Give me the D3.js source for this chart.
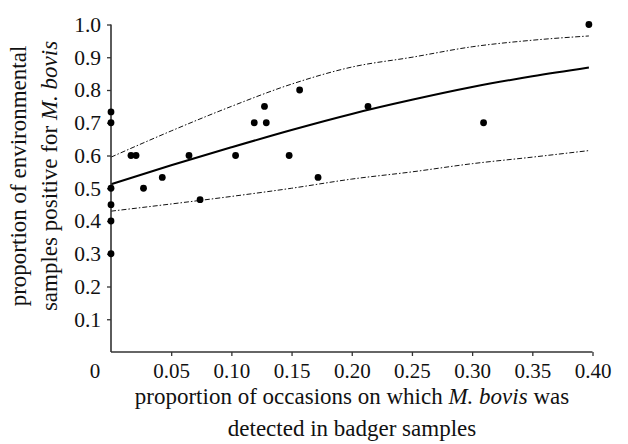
<!DOCTYPE html>
<html>
<head>
<meta charset="utf-8">
<script src="https://cdn.jsdelivr.net/npm/d3@7"></script>
<style>
  body { margin: 0; background: #fff; }
  #chart text { font-family: "Liberation Serif", "Times New Roman", serif !important; }
</style>
</head>
<body>
<svg id="chart" width="628" height="444"></svg>
<script>
// observed points (x = proportion badger samples, y = proportion environmental samples)
var pointX = [0, 0, 0, 0, 0, 0, 0.0166, 0.0208, 0.027, 0.0426, 0.0648, 0.074,
  0.1035, 0.119, 0.1275, 0.129, 0.148, 0.1567, 0.172, 0.2135, 0.3095, 0.397];
var pointY = [0.733, 0.70, 0.50, 0.45, 0.40, 0.30, 0.60, 0.60, 0.50, 0.533, 0.60, 0.465,
  0.60, 0.70, 0.75, 0.70, 0.60, 0.80, 0.533, 0.75, 0.70, 1.0];

// fitted curve and confidence band
var curveX = [0, 0.05, 0.10, 0.15, 0.20, 0.25, 0.30, 0.35, 0.397];
var fitY = [0.512, 0.570, 0.625, 0.678, 0.727, 0.770, 0.809, 0.842, 0.869];
var upperY = [0.595, 0.675, 0.750, 0.818, 0.870, 0.900, 0.932, 0.952, 0.965];
var lowerY = [0.430, 0.452, 0.475, 0.500, 0.528, 0.550, 0.575, 0.595, 0.615];

var xTicks = [0.05, 0.10, 0.15, 0.20, 0.25, 0.30, 0.35, 0.40];
var yTicks = [0.1, 0.2, 0.3, 0.4, 0.5, 0.6, 0.7, 0.8, 0.9, 1.0];

var W = 628, H = 444;
var margin = {top: 24.5, right: 35.5, bottom: 92, left: 111};
var fontFam = "Liberation Serif";

function styleText(sel, size) {
  sel.attr("font-family", fontFam)
    .attr("font-size", size)
    .style("font-size", size + "px")
    .attr("fill", "#111");
}

var svg = d3.select("#chart");

var xScale = d3.scaleLinear()
  .domain([0, 0.40])
  .range([margin.left, W - margin.right]);

var yScale = d3.scaleLinear()
  .domain([0, 1.0])
  .range([H - margin.bottom, margin.top]);

// Confidence band lines
var line = d3.line()
  .x(function(d) { return xScale(d[0]); })
  .y(function(d) { return yScale(d[1]); })
  .curve(d3.curveMonotoneX);

[upperY, lowerY].forEach(function(series) {
  svg.append("path")
    .datum(curveX.map(function(x, i) { return [x, series[i]]; }))
    .attr("d", line)
    .attr("fill", "none")
    .attr("stroke", "#111")
    .attr("stroke-width", 1)
    .attr("stroke-dasharray", "5,2,1.5,2");
});

// Fitted line
svg.append("path")
  .datum(curveX.map(function(x, i) { return [x, fitY[i]]; }))
  .attr("d", line)
  .attr("fill", "none")
  .attr("stroke", "#000")
  .attr("stroke-width", 2);

// Y axis
var yAxis = d3.axisLeft(yScale)
  .tickValues(yTicks)
  .tickSize(4)
  .tickPadding(6)
  .tickFormat(d3.format(".1f"));

var gy = svg.append("g")
  .attr("class", "y-axis")
  .attr("transform", `translate(${margin.left},0)`)
  .call(yAxis);
gy.select(".domain").remove();
gy.selectAll("line").attr("stroke", "#333").attr("stroke-width", 1.3);
styleText(gy.selectAll("text"), 21.5);

svg.append("line")
  .attr("x1", margin.left).attr("x2", margin.left)
  .attr("y1", yScale(0)).attr("y2", yScale(1.0))
  .attr("stroke", "#333").attr("stroke-width", 1.6);

// X axis
var xAxis = d3.axisBottom(xScale)
  .tickValues(xTicks)
  .tickSize(4)
  .tickPadding(7)
  .tickFormat(d3.format(".2f"));

var gx = svg.append("g")
  .attr("class", "x-axis")
  .attr("transform", `translate(0,${yScale(0)})`)
  .call(xAxis);
gx.select(".domain").remove();
gx.selectAll("line").attr("stroke", "#333").attr("stroke-width", 1.3);
styleText(gx.selectAll("text"), 21);

svg.append("line")
  .attr("x1", xScale(0)).attr("x2", xScale(0.40))
  .attr("y1", yScale(0)).attr("y2", yScale(0))
  .attr("stroke", "#333").attr("stroke-width", 1.6);

// origin label
styleText(svg.append("text")
  .attr("x", xScale(0) - 16)
  .attr("y", yScale(0) + 26)
  .attr("text-anchor", "middle")
  .text("0"), 21);

// Points
svg.selectAll("dots")
  .data(pointX)
  .enter()
  .append("circle")
  .attr("cx", function(d) { return xScale(d); })
  .attr("cy", function(d, i) { return yScale(pointY[i]); })
  .attr("r", 3.4)
  .attr("fill", "#000");

// X title
var xTitle = svg.append("text")
  .attr("text-anchor", "middle")
  .attr("x", 352).attr("y", 404);
xTitle.append("tspan").text("proportion of occasions on which ");
xTitle.append("tspan").style("font-style", "italic").text("M. bovis");
xTitle.append("tspan").text(" was");
styleText(xTitle, 23);

styleText(svg.append("text")
  .attr("text-anchor", "middle")
  .attr("x", 352).attr("y", 436)
  .text("detected in badger samples"), 23);

// Y title
var yTitle = svg.append("g")
  .attr("transform", "translate(0,176) rotate(-90)");
styleText(yTitle.append("text")
  .attr("text-anchor", "middle")
  .attr("x", 0).attr("y", 26)
  .text("proportion of environmental"), 23);
var yt2 = yTitle.append("text")
  .attr("text-anchor", "middle")
  .attr("x", 0).attr("y", 57);
yt2.append("tspan").text("samples positive for ");
yt2.append("tspan").style("font-style", "italic").text("M. bovis");
styleText(yt2, 23);
</script>
</body>
</html>
